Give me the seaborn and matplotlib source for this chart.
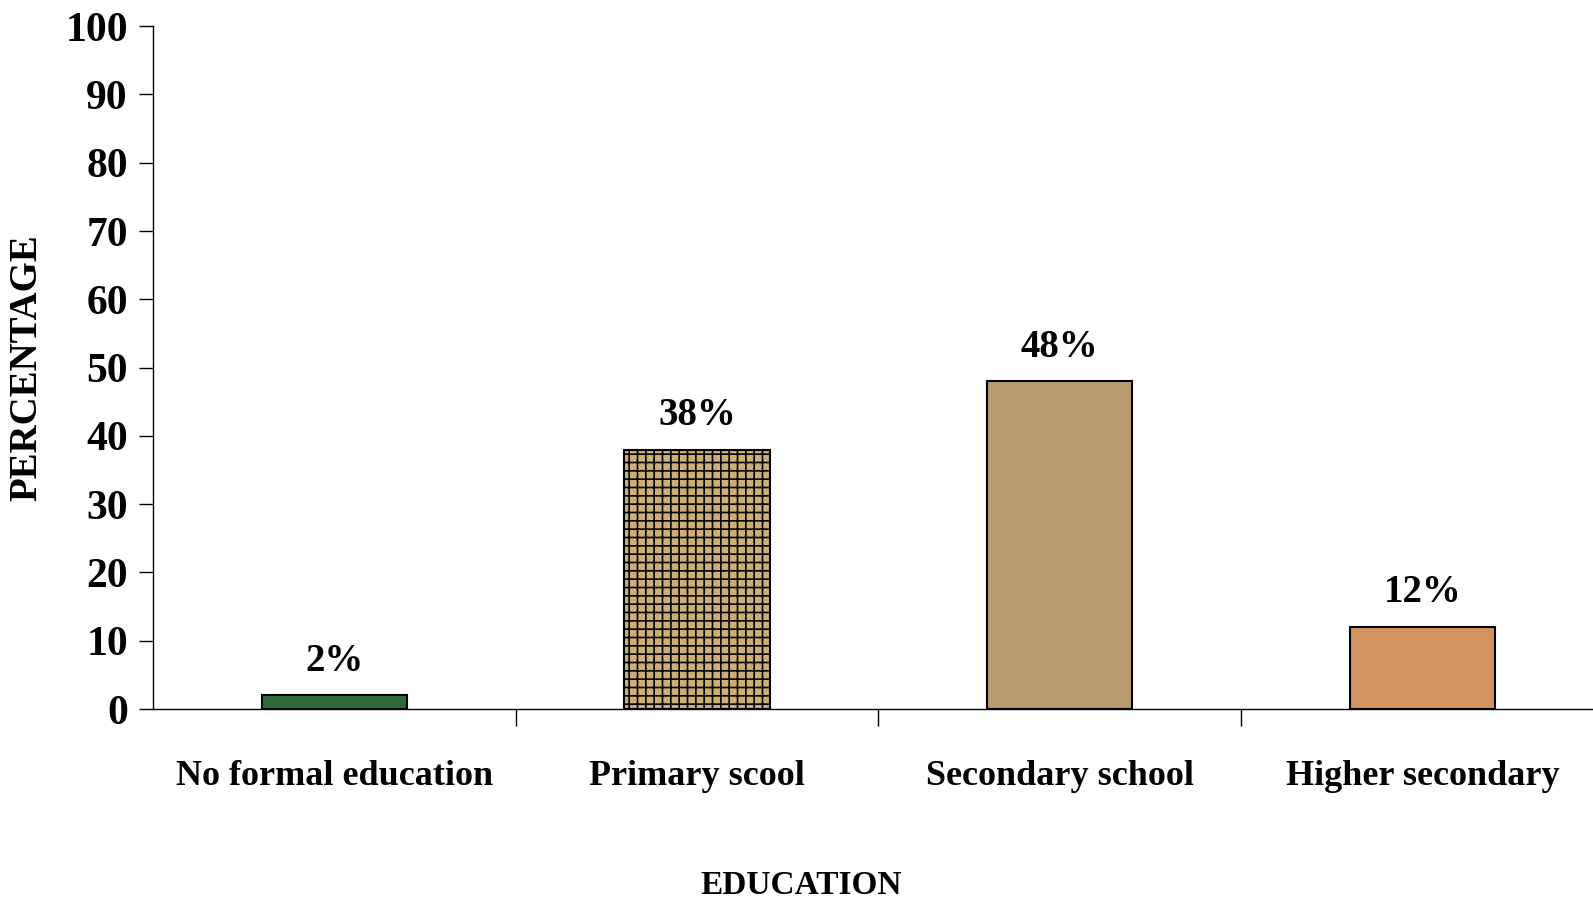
import matplotlib
matplotlib.use("Agg")
import matplotlib.pyplot as plt
import seaborn as sns
import pandas as pd

categories = ["No formal education", "Primary scool", "Secondary school", "Higher secondary"]
values = [2, 38, 48, 12]
labels = ["2%", "38%", "48%", "12%"]
colors = ["#2f6a3c", "#ccae72", "#bb9a6e", "#d3935e"]
hatches = ["", "++", "", ""]

df = pd.DataFrame({"education": categories, "pct": values})

sns.set_style("white")
plt.rcParams["font.family"] = ["Liberation Serif", "DejaVu Serif"]
plt.rcParams["font.weight"] = "bold"
plt.rcParams["text.color"] = "black"
plt.rcParams["xtick.color"] = "black"
plt.rcParams["ytick.color"] = "black"
plt.rcParams["axes.labelcolor"] = "black"
plt.rcParams["hatch.color"] = "#9c7c48"
plt.rcParams["hatch.linewidth"] = 1.2

fig = plt.figure(figsize=(15.93, 9.01), dpi=100)
ax = fig.add_axes([0.096, 0.213, 0.904, 0.758])

sns.barplot(data=df, x="education", y="pct", hue="education", palette=colors,
            width=0.4, edgecolor="black", linewidth=1.5, legend=False, ax=ax,
            saturation=1)

for bar, h in zip(ax.patches, hatches):
    bar.set_hatch(h)

# value labels above the bars
for i, (v, t) in enumerate(zip(values, labels)):
    ax.text(i, v + 5, t, ha="center", va="center", fontsize=28, fontweight="bold")

ax.set_ylim(0, 100)
ax.set_xlim(-0.5, 3.47)
ax.set_yticks(range(0, 101, 10))
ax.tick_params(axis="y", labelsize=30, length=10, width=1, direction="out", pad=8, left=True)
ax.tick_params(axis="x", which="major", labelsize=26, length=0, pad=37)
ax.set_xticks([0.5, 1.5, 2.5], minor=True)
ax.tick_params(axis="x", which="minor", length=12, width=1, direction="out", bottom=True)

for s in ["top", "right"]:
    ax.spines[s].set_visible(False)
for s in ["left", "bottom"]:
    ax.spines[s].set_linewidth(1)
    ax.spines[s].set_color("black")

ax.set_xlabel("EDUCATION", fontsize=24, fontweight="bold")
ax.set_ylabel("PERCENTAGE", fontsize=28, fontweight="bold")
ax.xaxis.set_label_coords(0.45, -0.235)
ax.yaxis.set_label_coords(-0.075, 0.5)

fig.savefig("out.png", dpi=100)
